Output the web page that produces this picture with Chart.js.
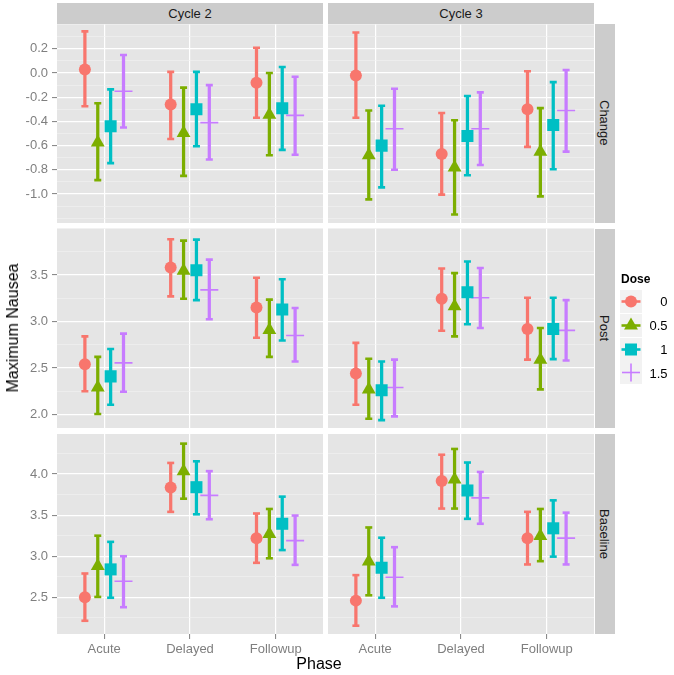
<!DOCTYPE html>
<html><head><meta charset="utf-8">
<script src="https://cdn.jsdelivr.net/npm/chart.js@4"></script>
<style>
html,body{margin:0;padding:0;background:#fff;}
#wrap{position:relative;width:674px;height:675px;overflow:hidden;font-family:"Liberation Sans",Arial,sans-serif;}
#wrap canvas{position:absolute;left:0;top:0;}
.strip{position:absolute;background:#CCCCCC;color:#1A1A1A;font-size:13px;display:flex;align-items:center;justify-content:center;white-space:nowrap;}
.vstrip{writing-mode:vertical-rl;}
.txt{position:absolute;white-space:nowrap;}
</style></head><body><div id="wrap"></div>
<script>
// ---------- data ----------
const phases = ['Acute', 'Delayed', 'Followup'];
const phaseTicks = [1, 2, 3];
const doses = ['0', '0.5', '1', '1.5'];
const cycles = ['Cycle 2', 'Cycle 3'];
const measures = ['Change', 'Post', 'Baseline'];
const changeTicks = [-1.0, -0.8, -0.6, -0.4, -0.2, 0.0, 0.2];
const postTicks = [2.0, 2.5, 3.0, 3.5];
const baselineTicks = [2.5, 3.0, 3.5, 4.0];
const changeRange = [-1.24, 0.41];
const postRange = [1.855, 4.0];
const baselineRange = [2.054, 4.487];

// rows = dose (0, 0.5, 1, 1.5), columns = phase (Acute, Delayed, Followup)
const changeC2Mean = [[0.03, -0.26, -0.08], [-0.575, -0.495, -0.345], [-0.44, -0.30, -0.29], [-0.15, -0.41, -0.35]];
const changeC2Low  = [[-0.275, -0.545, -0.37], [-0.885, -0.85, -0.68], [-0.745, -0.605, -0.635], [-0.45, -0.715, -0.675]];
const changeC2High = [[0.345, 0.01, 0.21], [-0.25, -0.12, 0.0], [-0.135, 0.01, 0.05], [0.15, -0.10, -0.03]];

const changeC3Mean = [[-0.02, -0.67, -0.30], [-0.68, -0.78, -0.65], [-0.60, -0.52, -0.43], [-0.46, -0.46, -0.31]];
const changeC3Low  = [[-0.37, -1.005, -0.61], [-1.045, -1.17, -1.02], [-0.945, -0.845, -0.795], [-0.80, -0.76, -0.65]];
const changeC3High = [[0.335, -0.33, 0.015], [-0.31, -0.39, -0.29], [-0.27, -0.19, -0.075], [-0.13, -0.16, 0.025]];

const postC2Mean = [[2.54, 3.58, 3.15], [2.29, 3.545, 2.91], [2.41, 3.55, 3.13], [2.555, 3.34, 2.85]];
const postC2Low  = [[2.25, 3.27, 2.825], [2.005, 3.245, 2.62], [2.105, 3.23, 2.795], [2.245, 3.025, 2.57]];
const postC2High = [[2.84, 3.885, 3.47], [2.62, 3.87, 3.235], [2.705, 3.88, 3.455], [2.87, 3.665, 3.145]];

const postC3Mean = [[2.44, 3.245, 2.92], [2.27, 3.165, 2.59], [2.26, 3.315, 2.92], [2.29, 3.255, 2.905]];
const postC3Low  = [[2.105, 2.90, 2.59], [1.955, 2.84, 2.27], [1.94, 2.97, 2.595], [1.98, 2.93, 2.58]];
const postC3High = [[2.77, 3.57, 3.255], [2.60, 3.52, 2.93], [2.57, 3.645, 3.255], [2.59, 3.575, 3.23]];

const baselineC2Mean = [[2.50, 3.835, 3.22], [2.88, 4.035, 3.27], [2.84, 3.84, 3.395], [2.695, 3.74, 3.19]];
const baselineC2Low  = [[2.215, 3.54, 2.92], [2.505, 3.70, 2.975], [2.495, 3.51, 3.075], [2.38, 3.45, 2.895]];
const baselineC2High = [[2.79, 4.135, 3.52], [3.25, 4.37, 3.575], [3.175, 4.155, 3.725], [3.0, 4.035, 3.495]];

const baselineC3Mean = [[2.46, 3.915, 3.22], [2.935, 3.935, 3.245], [2.86, 3.80, 3.34], [2.745, 3.71, 3.22]];
const baselineC3Low  = [[2.155, 3.58, 2.90], [2.525, 3.58, 2.94], [2.495, 3.455, 2.995], [2.39, 3.395, 2.90]];
const baselineC3High = [[2.77, 4.235, 3.54], [3.35, 4.305, 3.575], [3.225, 4.14, 3.68], [3.11, 4.025, 3.53]];

// ---------- styling / layout ----------
const doseColors = ['#F8766D', '#7CAE00', '#00BFC4', '#C77CFF'];
const doseShapes = ['circle', 'triangle', 'rect', 'cross'];
const doseRadius = [6, 8, 8.5, 9];
const dodge = 0.15;
const FONT = '"Liberation Sans", Arial, sans-serif';
const W = 674, H = 675;
const colL = [57, 328], colR = [323, 594];
const rowT = [23.5, 228.5, 434], rowB = [223, 428, 634];

const panelTable = [
  [{m: changeC2Mean, lo: changeC2Low, hi: changeC2High}, {m: changeC3Mean, lo: changeC3Low, hi: changeC3High}],
  [{m: postC2Mean, lo: postC2Low, hi: postC2High}, {m: postC3Mean, lo: postC3Low, hi: postC3High}],
  [{m: baselineC2Mean, lo: baselineC2Low, hi: baselineC2High}, {m: baselineC3Mean, lo: baselineC3Low, hi: baselineC3High}]
];
const rowTicks = [changeTicks, postTicks, baselineTicks];
const rowRanges = [changeRange, postRange, baselineRange];

const wrap = document.getElementById('wrap');

function yTickObjects(majors, lo, hi) {
  const step = majors[1] - majors[0], half = step / 2;
  const out = majors.map(v => ({value: v, minor: false}));
  const start = Math.ceil((lo - 1e-9) / half), end = Math.floor((hi + 1e-9) / half);
  for (let k = start; k <= end; k++) {
    const v = +(k * half).toFixed(6);
    if (!majors.some(m => Math.abs(m - v) < 1e-6)) out.push({value: v, minor: true});
  }
  return out.sort((a, b) => a.value - b.value);
}

const bgPlugin = {
  id: 'panelBg',
  beforeDraw(chart) {
    const a = chart.chartArea, ctx = chart.ctx;
    ctx.save();
    ctx.fillStyle = '#E5E5E5';
    ctx.fillRect(a.left, a.top, a.right - a.left, a.bottom - a.top);
    ctx.restore();
  }
};

function makePanel(row, col) {
  const cv = document.createElement('canvas');
  cv.width = W; cv.height = H;
  wrap.appendChild(cv);
  const P = panelTable[row][col];
  const showY = col === 0, showX = row === 2;
  const yW = showY ? colL[col] : 0;
  const xH = showX ? (H - rowB[row]) : 0;
  const range = rowRanges[row];
  const majors = rowTicks[row];

  const datasets = [];
  doses.forEach((d, di) => {
    const color = doseColors[di];
    const xs = phaseTicks.map(p => p + (di - 1.5) * dodge);
    datasets.push({
      type: 'bar', label: 'bar' + d,
      data: xs.map((x, pi) => ({x: x, y: [P.lo[di][pi], P.hi[di][pi]]})),
      backgroundColor: color, borderWidth: 0, barThickness: 2.6, grouped: false, order: 3
    });
    datasets.push({
      type: 'scatter', label: 'cap' + d,
      data: xs.flatMap((x, pi) => [{x: x, y: P.lo[di][pi]}, {x: x, y: P.hi[di][pi]}]),
      pointStyle: 'line', pointRadius: 3.5, borderColor: color, backgroundColor: color,
      pointBorderWidth: 2.6, showLine: false, order: 2
    });
    datasets.push({
      type: 'scatter', label: 'pt' + d,
      data: xs.map((x, pi) => ({x: x, y: P.m[di][pi]})),
      pointStyle: doseShapes[di], pointRadius: doseRadius[di],
      backgroundColor: color, borderColor: color,
      pointBorderWidth: di === 3 ? 1.6 : 0, showLine: false, order: 1
    });
  });

  new Chart(cv, {
    type: 'scatter',
    data: {datasets},
    plugins: [bgPlugin],
    options: {
      responsive: false, animation: false, devicePixelRatio: 1,
      events: [],
      layout: {padding: {left: colL[col] - yW, right: W - colR[col], top: rowT[row], bottom: H - rowB[row] - xH}},
      plugins: {legend: {display: false}, tooltip: {enabled: false}},
      scales: {
        x: {
          type: 'linear', min: 0.45, max: 3.55, offset: false,
          afterBuildTicks: s => { s.ticks = phaseTicks.map(v => ({value: v})); },
          afterFit: s => { s.height = xH; },
          ticks: {
            display: showX, autoSkip: false, maxRotation: 0, padding: 3,
            color: '#7F7F7F', font: {family: FONT, size: 13},
            callback: v => phases[Math.round(v) - 1]
          },
          grid: {offset: false, color: '#FFFFFF', lineWidth: 1.2, drawTicks: showX, tickLength: 5, tickColor: '#7F7F7F', tickWidth: 1},
          border: {display: false}
        },
        y: {
          type: 'linear', min: range[0], max: range[1], offset: false,
          afterBuildTicks: s => { s.ticks = yTickObjects(majors, range[0], range[1]); },
          afterFit: s => { s.width = yW; },
          ticks: {
            display: showY, autoSkip: false, padding: 4,
            color: '#7F7F7F', font: {family: FONT, size: 13},
            callback: (v, i, t) => (t[i] && t[i].minor) ? '' : Number(v).toFixed(1)
          },
          grid: {
            offset: false,
            color: c => (c.tick && c.tick.minor) ? '#F2F2F2' : '#FFFFFF',
            lineWidth: c => (c.tick && c.tick.minor) ? 0.6 : 1.2,
            drawTicks: showY, tickLength: 5,
            tickColor: c => (c.tick && c.tick.minor) ? 'rgba(0,0,0,0)' : '#7F7F7F',
            tickWidth: 1
          },
          border: {display: false}
        }
      }
    }
  });
}

for (let r = 0; r < 3; r++) for (let c = 0; c < 2; c++) makePanel(r, c);

// ---------- strips ----------
cycles.forEach((name, c) => {
  const d = document.createElement('div');
  d.className = 'strip';
  d.style.left = colL[c] + 'px'; d.style.top = '3px';
  d.style.width = (colR[c] - colL[c]) + 'px'; d.style.height = (rowT[0] - 3) + 'px';
  d.textContent = name;
  wrap.appendChild(d);
});
measures.forEach((name, r) => {
  const d = document.createElement('div');
  d.className = 'strip vstrip';
  d.style.left = '595px'; d.style.top = rowT[r] + 'px';
  d.style.width = '19.5px'; d.style.height = (rowB[r] - rowT[r]) + 'px';
  d.textContent = name;
  wrap.appendChild(d);
});

// ---------- axis titles ----------
const xt = document.createElement('div');
xt.className = 'txt';
xt.style.cssText += 'left:319px;top:664px;transform:translate(-50%,-50%);font-size:16px;color:#000;';
xt.textContent = 'Phase';
wrap.appendChild(xt);
const yt = document.createElement('div');
yt.className = 'txt';
yt.style.cssText += 'left:13px;top:328px;transform:translate(-50%,-50%) rotate(-90deg);font-size:16px;color:#000;';
yt.textContent = 'Maximum Nausea';
wrap.appendChild(yt);

// ---------- legend ----------
const lt = document.createElement('div');
lt.className = 'txt';
lt.style.cssText += 'left:621px;top:279px;transform:translateY(-50%);font-size:12px;font-weight:bold;color:#000;';
lt.textContent = 'Dose';
wrap.appendChild(lt);
const keyCenters = [301, 325, 349, 372.5];
function keySvg(di) {
  const c = doseColors[di];
  let mk = '';
  if (di === 0) mk = `<circle cx="11" cy="11.5" r="6" fill="${c}"/>`;
  if (di === 1) mk = `<polygon points="11,3.5 17.93,15.5 4.07,15.5" fill="${c}"/>`;
  if (di === 2) mk = `<rect x="5" y="5.5" width="12" height="12" fill="${c}"/>`;
  if (di === 3) mk = `<line x1="11" y1="2.5" x2="11" y2="20.5" stroke="${c}" stroke-width="1.6"/><line x1="2" y1="11.5" x2="20" y2="11.5" stroke="${c}" stroke-width="1.6"/>`;
  const bar = di === 3 ? '' : `<line x1="1.5" y1="11.5" x2="20.5" y2="11.5" stroke="${c}" stroke-width="2.6"/>`;
  return `<svg width="22" height="23" xmlns="http://www.w3.org/2000/svg"><rect width="22" height="23" fill="#F2F2F2"/>${bar}${mk}</svg>`;
}
doses.forEach((d, di) => {
  const k = document.createElement('div');
  k.className = 'txt';
  k.style.cssText += `left:620px;top:${keyCenters[di] - 11.5}px;width:22px;height:23px;`;
  k.innerHTML = keySvg(di);
  wrap.appendChild(k);
  const t = document.createElement('div');
  t.className = 'txt';
  t.style.cssText += `right:${W - 667.5}px;top:${keyCenters[di]}px;transform:translateY(-50%);font-size:13px;color:#000;`;
  t.textContent = d;
  wrap.appendChild(t);
});
</script></body></html>
